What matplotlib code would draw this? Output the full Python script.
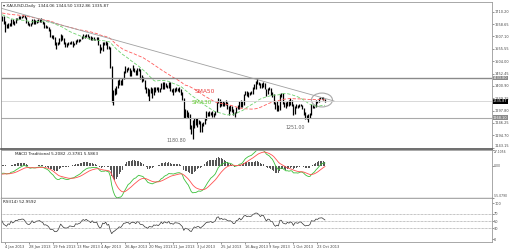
import numpy as np
import pandas as pd
import matplotlib
matplotlib.use("Agg")
import matplotlib.pyplot as plt
from matplotlib.patches import Ellipse

# daily closes Sep-Dec 2012, only used to warm up the indicators (not drawn)
pre_close = [1692, 1695, 1694, 1703, 1738, 1734, 1733, 1735, 1770, 1772, 1763, 1772, 1770, 1773, 1775, 1764, 1752, 1752, 1778, 1776,
             1775, 1776, 1778, 1793, 1780, 1774, 1764, 1766, 1769, 1758, 1743, 1752, 1747, 1742, 1724, 1727, 1710, 1703, 1712, 1708, 1711, 1716, 1719,
             1715, 1676, 1683, 1715, 1731, 1728, 1730, 1733, 1725, 1713, 1714, 1733, 1725, 1730, 1728, 1751, 1749, 1744, 1748, 1718, 1725, 1711,
             1719, 1697, 1693, 1700, 1701, 1706, 1714, 1710, 1697, 1694, 1697, 1697, 1669, 1650, 1661, 1658, 1659, 1660, 1657, 1657, 1675]

# XAUUSD daily, 2 Jan 2013 - 30 Oct 2013
close = [1688, 1665, 1656, 1646, 1660, 1655, 1678, 1662, 1669, 1682, 1680, 1688, 1687, 1692, 1692, 1685, 1669, 1658, 1655, 1662, 1678, 1664,
         1667, 1674, 1675, 1677, 1670, 1667, 1649, 1650, 1645, 1635, 1609, 1608, 1604, 1578, 1577, 1581, 1595, 1614, 1598, 1578,
         1573, 1572, 1575, 1583, 1581, 1577, 1577, 1591, 1587, 1590, 1593, 1604, 1612, 1607, 1614, 1607, 1604, 1596, 1606, 1596, 1596,
         1598, 1575, 1553, 1558, 1580, 1574, 1585, 1558, 1563, 1477, 1348, 1368, 1378, 1393, 1405, 1424, 1409, 1432, 1462, 1464, 1475, 1472,
         1446, 1467, 1470, 1468, 1450, 1473, 1468, 1436, 1434, 1425, 1393, 1386, 1365, 1382, 1378, 1373, 1392, 1386, 1390, 1379, 1392, 1411, 1392,
         1412, 1401, 1397, 1414, 1383, 1386, 1377, 1391, 1390, 1388, 1383, 1367, 1349, 1277, 1296, 1283, 1276, 1231, 1211, 1234,
         1255, 1243, 1252, 1251, 1223, 1235, 1246, 1263, 1280, 1283, 1284, 1291, 1277, 1284, 1295, 1335, 1345, 1320, 1334, 1322, 1328, 1325, 1312,
         1309, 1311, 1302, 1283, 1286, 1310, 1313, 1334, 1319, 1335, 1365, 1376, 1366, 1372, 1370, 1373, 1396, 1405, 1419, 1417, 1409, 1396,
         1412, 1411, 1390, 1367, 1388, 1385, 1364, 1366, 1331, 1308, 1318, 1307, 1366, 1366, 1332, 1322, 1317, 1336, 1323, 1338, 1327,
         1286, 1317, 1316, 1309, 1324, 1324, 1307, 1286, 1270, 1274, 1273, 1282, 1320, 1315, 1316, 1338, 1334, 1349, 1351, 1353, 1345, 1336]
high = [1694, 1694, 1672, 1659, 1664, 1665, 1681, 1682, 1673, 1685, 1686, 1694, 1693, 1694, 1697, 1696, 1688, 1672, 1662, 1664, 1682, 1681,
        1676, 1677, 1680, 1681, 1683, 1670, 1669, 1653, 1651, 1647, 1637, 1614, 1612, 1603, 1585, 1582, 1601, 1617, 1615, 1601,
        1582, 1581, 1582, 1586, 1588, 1590, 1580, 1593, 1597, 1595, 1596, 1611, 1616, 1614, 1616, 1616, 1610, 1609, 1607, 1607, 1598,
        1606, 1603, 1576, 1563, 1586, 1584, 1587, 1586, 1566, 1564, 1485, 1382, 1392, 1399, 1424, 1428, 1427, 1433, 1465, 1485, 1476, 1478,
        1477, 1469, 1487, 1476, 1469, 1475, 1475, 1471, 1448, 1439, 1427, 1397, 1392, 1388, 1395, 1392, 1396, 1396, 1396, 1397, 1394, 1415, 1417,
        1416, 1415, 1405, 1417, 1418, 1390, 1393, 1394, 1397, 1392, 1396, 1386, 1374, 1350, 1306, 1302, 1294, 1284, 1236, 1258,
        1268, 1265, 1267, 1258, 1255, 1248, 1250, 1268, 1298, 1294, 1295, 1294, 1297, 1288, 1298, 1336, 1349, 1345, 1337, 1339, 1333, 1340, 1335,
        1317, 1320, 1315, 1305, 1294, 1312, 1320, 1336, 1340, 1338, 1366, 1380, 1379, 1376, 1376, 1381, 1398, 1407, 1421, 1434, 1419, 1411,
        1414, 1419, 1412, 1390, 1392, 1395, 1391, 1374, 1369, 1334, 1337, 1320, 1368, 1372, 1371, 1334, 1332, 1339, 1340, 1350, 1343,
        1327, 1319, 1324, 1321, 1327, 1326, 1323, 1310, 1292, 1278, 1284, 1286, 1324, 1323, 1319, 1343, 1338, 1352, 1356, 1356, 1353, 1345]
low = [1670, 1661, 1626, 1641, 1643, 1650, 1652, 1658, 1656, 1664, 1674, 1678, 1680, 1684, 1687, 1683, 1664, 1655, 1651, 1652, 1659, 1659,
       1661, 1664, 1668, 1669, 1667, 1659, 1644, 1641, 1642, 1632, 1603, 1600, 1597, 1573, 1554, 1572, 1576, 1588, 1592, 1577,
       1565, 1562, 1571, 1574, 1575, 1563, 1572, 1575, 1583, 1583, 1587, 1597, 1601, 1601, 1606, 1605, 1598, 1592, 1593, 1594, 1593,
       1592, 1573, 1539, 1549, 1545, 1570, 1571, 1555, 1555, 1476, 1335, 1321, 1364, 1366, 1393, 1403, 1403, 1405, 1429, 1456, 1459, 1466,
       1443, 1443, 1462, 1458, 1445, 1446, 1461, 1428, 1416, 1420, 1390, 1373, 1359, 1338, 1372, 1351, 1363, 1376, 1383, 1376, 1376, 1388, 1390,
       1390, 1395, 1392, 1393, 1379, 1374, 1364, 1374, 1379, 1378, 1375, 1364, 1342, 1267, 1269, 1270, 1269, 1223, 1200, 1180,
       1227, 1238, 1230, 1243, 1210, 1208, 1233, 1241, 1260, 1275, 1274, 1280, 1273, 1270, 1280, 1291, 1331, 1314, 1316, 1318, 1315, 1320, 1306,
       1280, 1298, 1293, 1280, 1270, 1286, 1305, 1306, 1311, 1313, 1322, 1361, 1358, 1355, 1362, 1366, 1369, 1387, 1389, 1408, 1405, 1393,
       1393, 1395, 1388, 1359, 1365, 1382, 1362, 1356, 1325, 1304, 1298, 1295, 1302, 1356, 1326, 1312, 1307, 1315, 1318, 1320, 1319,
       1278, 1282, 1310, 1308, 1311, 1315, 1303, 1280, 1261, 1262, 1251, 1268, 1281, 1310, 1308, 1313, 1329, 1334, 1345, 1346, 1340, 1333]

date_labels = ["4 Jan 2013", "28 Jan 2013", "19 Feb 2013", "13 Mar 2013", "4 Apr 2013", "26 Apr 2013", "20 May 2013",
               "11 Jun 2013", "3 Jul 2013", "25 Jul 2013", "16 Aug 2013", "9 Sep 2013", "1 Oct 2013", "23 Oct 2013"]
price_ticks = [1710.20, 1658.65, 1607.10, 1555.55, 1504.00, 1452.45, 1400.90, 1349.35, 1297.80, 1246.25, 1194.70, 1143.15]
rsi_ticks = [0, 30, 50, 70, 100]
rsi_levels = [30, 50, 70]

# chart annotations
levels = [1433.80, 1335.87, 1268.10]
trend_x = [-1.3, 221]
trend_y = [1726, 1338]
low_marks = [(116, 1174, "1180.80"), (195, 1229, "1251.00")]

n_pre = len(pre_close)
allc = pd.Series(pre_close + close, dtype=float)
sma30 = allc.rolling(30).mean().values[n_pre:]
sma50 = allc.rolling(50).mean().values[n_pre:]
macd_all = allc.ewm(span=12, adjust=False).mean() - allc.ewm(span=26, adjust=False).mean()
sig_all = macd_all.ewm(span=9, adjust=False).mean()
macd = macd_all.values[n_pre:]
signal = sig_all.values[n_pre:]
hist = macd - signal
d = allc.diff()
up = d.clip(lower=0).ewm(alpha=1 / 14, adjust=False).mean()
dn = (-d.clip(upper=0)).ewm(alpha=1 / 14, adjust=False).mean()
rsi = (100 - 100 / (1 + up / dn)).values[n_pre:]

x = np.arange(len(close))
xlim = (-0.7, 326)
txt = "#444444"
spine = "#9a9a9a"
fs = 2.5

fig = plt.figure(figsize=(5.1, 2.49), dpi=100)
ax1 = fig.add_axes([0.002, 0.402, 0.962, 0.590])
ax2 = fig.add_axes([0.002, 0.205, 0.962, 0.193])
ax3 = fig.add_axes([0.002, 0.028, 0.962, 0.177])

for ax in (ax1, ax2, ax3):
    ax.set_xlim(*xlim)
    ax.yaxis.tick_right()
    ax.tick_params(axis="y", labelsize=fs, colors=txt, length=1.2, width=0.4, pad=0.6)
    for s in ax.spines.values():
        s.set_color(spine)
        s.set_linewidth(0.6)
ax1.spines["bottom"].set_color("#555555")
ax1.spines["bottom"].set_linewidth(1.2)
ax2.spines["bottom"].set_color("#555555")
ax2.spines["bottom"].set_linewidth(0.9)

# price panel
ax1.set_ylim(1138, 1751)
ax1.vlines(x, low, high, color="black", lw=0.9)
ax1.plot(x, sma50, color="#ff5c5c", lw=0.6, ls=(0, (4, 2)))
ax1.plot(x, sma30, color="#6fd26f", lw=0.6, ls=(0, (4, 2)))
ax1.axhline(levels[0], color="#8a8a8a", lw=1.0)
ax1.axhline(levels[1], color="#d2d2d2", lw=0.6)
ax1.axhline(levels[2], color="#aaaaaa", lw=0.8)
ax1.plot(trend_x, trend_y, color="#a0a0a0", lw=0.6)
ax1.add_patch(Ellipse((213, 1342), 14, 58, fill=False, ec="#a8a8a8", lw=0.8))
ax1.text(128, 1376, "SMA50", color="#e83a3a", fontsize=4.2, va="center")
ax1.text(126, 1330, "SMA30", color="#66cc33", fontsize=4.2, va="center")
for lx, ly, lab in low_marks:
    ax1.text(lx, ly, lab, color="#666666", fontsize=3.4, ha="center", va="center")
ax1.set_yticks(price_ticks)
ax1.set_yticklabels([f"{v:.2f}" for v in price_ticks])
ax1.get_yticklabels()[-1].set_va("bottom")
ax1.set_xticks([])
for val, fc in [(levels[0], "#8a8a8a"), (levels[1], "black"), (levels[2], "#8a8a8a")]:
    ax1.annotate(f"{val:.2f}", xy=(1.0, val), xycoords=("axes fraction", "data"), xytext=(1.0, 0),
                 textcoords="offset points", fontsize=fs, color="white", va="center", ha="left",
                 bbox=dict(boxstyle="square,pad=0.1", fc=fc, ec="none"), annotation_clip=False)
ax1.text(0.005, 0.985, "\u25be XAUUSD,Daily  1344.06 1344.50 1332.86 1335.87", transform=ax1.transAxes,
         fontsize=3, color="#222222", va="top")

# MACD panel
ax2.bar(x, hist, width=0.7, color="#555555")
ax2.plot(x, macd, color="#3cc03c", lw=0.6)
ax2.plot(x, signal, color="#ff5050", lw=0.6)
lo = min(macd.min(), signal.min(), hist.min())
hi = max(macd.max(), signal.max(), hist.max())
ax2.set_ylim(lo, hi)
ax2.set_yticks([lo, 0, hi])
ax2.set_yticklabels([f"{lo:.4f}", "0.00", f"{hi:.4f}"])
ax2.tick_params(axis="y", labelsize=2.2)
ax2.get_yticklabels()[0].set_va("bottom")
ax2.get_yticklabels()[2].set_va("top")
ax2.set_xticks([])
ax2.text(0.028, 0.95, "MACD Traditional 5.2082 -0.3781 5.5863", transform=ax2.transAxes,
         fontsize=3, color="#222222", va="top")

# RSI panel
ax3.plot(x, rsi, color="#333333", lw=0.5)
for lv in rsi_levels:
    ax3.axhline(lv, color="#8a8a8a", lw=0.5, ls=(0, (1, 1)))
ax3.set_ylim(-8, 114)
ax3.set_yticks(rsi_ticks)
ax3.set_yticklabels([str(v) for v in rsi_ticks])
ax3.text(0.004, 0.95, "RSI(14) 52.9592", transform=ax3.transAxes, fontsize=3, color="#222222", va="top")
ax3.set_xticks([2 + 16 * k for k in range(len(date_labels))])
ax3.set_xticklabels(date_labels, ha="left")
ax3.tick_params(axis="x", labelsize=2.6, colors=txt, length=1.2, width=0.4, pad=0.8)

fig.savefig("out.png", dpi=100)
